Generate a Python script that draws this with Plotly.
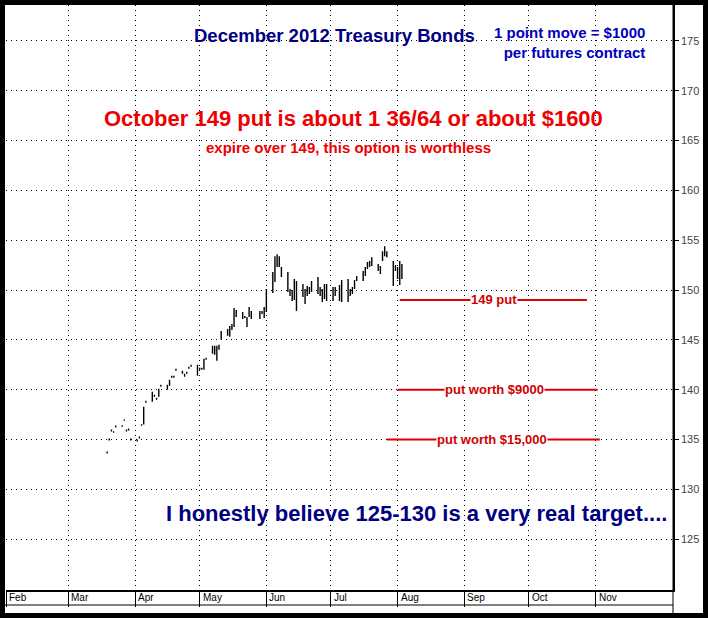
import plotly.graph_objects as go

# trading days, Mar 19 - Aug 3 2012
mar = [19, 20, 21, 22, 23, 26, 27, 28, 29, 30]
apr = [2, 3, 4, 5, 6, 9, 10, 11, 12, 13, 16, 17, 18, 19, 20, 23, 24, 25, 26, 27, 30]
may = [1, 2, 3, 4, 7, 8, 9, 10, 11, 14, 15, 16, 17, 18, 21, 22, 23, 24, 25, 29, 30, 31]
jun = [1, 4, 5, 6, 7, 8, 11, 12, 13, 14, 15, 18, 19, 20, 21, 22, 25, 26, 27, 28, 29]
jul = [2, 3, 5, 6, 9, 10, 11, 12, 13, 16, 17, 18, 19, 20, 23, 24, 25, 26, 27, 30, 31]
aug = [1, 2, 3]

lows = [133.6, 134.9, 135.8, 135.7, 136.2, 136.3, 136.9, 135.8, 135.9, 134.9,
        134.8, 135.1, 136.4, 136.5, 138.7, 138.8, 139.3, 139.0, 139.3, 140.3, 140.0,
        140.4, 141.2, 141.2, 141.9, 141.6, 141.3, 141.6, 142.1, 142.3, 141.4,
        142.0, 142.0, 142.0, 143.0, 143.6, 143.5, 142.9, 144.0, 145.0, 145.4, 145.3,
        146.0, 146.3, 147.3, 147.1, 147.2, 146.3, 147.3, 147.1, 147.1, 147.6, 147.2,
        147.8, 149.7, 150.8, 152.3, 152.3, 151.3, 149.8, 149.4, 148.9, 149.0, 147.9,
        149.3, 148.6, 149.4, 149.6, 149.8, 149.6, 149.4, 148.8, 149.1, 148.9,
        148.9, 149.4, 148.9, 148.8, 148.8, 149.4, 149.6, 150.1, 150.9, 150.9, 151.4,
        152.1, 152.3, 152.4, 151.9, 151.6, 152.9, 153.4, 153.3, 150.4, 151.9,
        151.1, 150.5, 151.1]
highs = [133.8, 135.1, 136.0, 135.8, 136.4, 136.4, 137.0, 136.0, 136.1, 135.1,
         135.0, 135.3, 136.5, 138.3, 138.9, 139.8, 139.5, 139.2, 140.1, 140.5, 140.5,
         141.0, 141.4, 141.4, 142.1, 141.9, 141.6, 141.8, 142.3, 142.5, 142.5,
         142.2, 142.2, 143.1, 143.2, 144.4, 144.4, 144.4, 144.5, 145.9, 146.1, 146.4,
         146.6, 148.2, 148.0, 147.8, 147.4, 147.3, 148.3, 147.9, 147.9, 147.9, 148.3,
         150.1, 151.8, 153.4, 153.6, 153.4, 152.3, 151.8, 150.1, 150.0, 151.1, 150.9,
         150.6, 150.1, 150.4, 150.3, 150.9, 151.3, 150.3, 150.1, 150.6, 150.6,
         150.3, 150.3, 150.5, 151.0, 151.1, 150.1, 150.3, 151.0, 151.4, 151.9, 152.3,
         152.8, 152.9, 153.3, 152.6, 152.4, 153.9, 154.4, 153.9, 152.9, 152.5,
         152.3, 152.9, 152.6]

months = ['Feb', 'Mar', 'Apr', 'May', 'Jun', 'Jul', 'Aug', 'Sep', 'Oct', 'Nov']
month_starts = ['2012-%02d-01' % m for m in range(2, 12)]

put_levels = [149, 140, 135]
put_labels = ['149 put', 'put worth $9000', 'put worth $15,000']
put_start = ['2012-08-02', '2012-08-01', '2012-07-27']
put_end = ['2012-10-28', '2012-11-02', '2012-11-03']
put_label_at = ['2012-09-15', '2012-09-15', '2012-09-14']

dates = (['2012-03-%02d' % d for d in mar] + ['2012-04-%02d' % d for d in apr]
         + ['2012-05-%02d' % d for d in may] + ['2012-06-%02d' % d for d in jun]
         + ['2012-07-%02d' % d for d in jul] + ['2012-08-%02d' % d for d in aug])
mids = [(h + l) / 2 for h, l in zip(highs, lows)]

W, H = 708, 618
L, R, T, B = 6, 35, 5, 28
pw, ph = W - L - R, H - T - B


def px(x):  # pixel -> paper x
    return (x - L) / pw


def py(y):  # pixel -> paper y
    return (H - B - y) / ph


fig = go.Figure()
fig.add_trace(go.Ohlc(x=dates, open=mids, high=highs, low=lows, close=mids,
                      increasing_line_color='black', decreasing_line_color='black',
                      line_width=1.4, tickwidth=0.3, hoverinfo='skip'))

for lvl, lab, x0, x1, xl in zip(put_levels, put_labels, put_start, put_end, put_label_at):
    fig.add_trace(go.Scatter(x=[x0, x1], y=[lvl, lvl], mode='lines',
                             line=dict(color='#e00000', width=2), hoverinfo='skip'))
    fig.add_annotation(x=xl, y=lvl, text='<b>%s</b>' % lab, xanchor='center', yanchor='middle',
                       showarrow=False, bgcolor='white', borderpad=0,
                       font=dict(family='Liberation Sans', size=13, color='#d00000'))

for m, d in zip(months, month_starts):
    fig.add_annotation(x=d, y=0, yref='paper', yanchor='top', xanchor='left', xshift=1,
                       yshift=0, text=m, showarrow=False,
                       font=dict(family='Liberation Sans Narrow, Liberation Sans', size=10, color='black'))

navy = '#000080'
texts = [
    ('<b>December 2012 Treasury Bonds</b>', 334, 35, 'center', 18.5, navy),
    ('<b>1 point move = $1000<br>per futures contract</b>', 647, 42, 'right', 15, '#0000c0'),
    ('<b>October 149 put is about 1 36/64 or about $1600</b>', 353, 119, 'center', 22, '#ee0000'),
    ('<b>expire over 149, this option is worthless</b>', 348, 147, 'center', 15, '#ee0000'),
    ('<b>I honestly believe 125-130 is a very real target....</b>', 416, 513, 'center', 22, navy),
]
for t, x, y, anc, sz, col in texts:
    fig.add_annotation(x=px(x), y=py(y), xref='paper', yref='paper', xanchor=anc, yanchor='middle',
                       align=anc, text=t, showarrow=False,
                       font=dict(family='Liberation Sans', size=sz, color=col))

# label band line and outer black frame
fig.add_shape(type='line', xref='paper', yref='paper', x0=px(0), x1=px(673), y0=py(605), y1=py(605),
              line=dict(color='black', width=1))
fig.add_shape(type='line', xref='paper', yref='paper', x0=px(673), x1=px(673), y0=py(613), y1=py(0),
              line=dict(color='black', width=1))
fig.add_shape(type='rect', xref='paper', yref='paper', x0=px(0), x1=px(W), y0=py(H), y1=py(0),
              line=dict(color='black', width=10), layer='above')

fig.update_layout(
    width=W, height=H, showlegend=False,
    margin=dict(l=L, r=R, t=T, b=B, autoexpand=False),
    paper_bgcolor='white', plot_bgcolor='white',
    xaxis=dict(range=['2012-02-01', '2012-12-07'], tickvals=month_starts, showticklabels=False,
               ticks='outside', ticklen=15, tickcolor='black', automargin=False,
               showgrid=True, gridcolor='black', griddash='1px,4px', gridwidth=1,
               showline=True, linecolor='black', linewidth=1.5, rangeslider_visible=False),
    yaxis=dict(range=[119.9, 178.6], side='right', tickvals=list(range(125, 180, 5)),
               ticks='outside', ticklen=4, tickcolor='black', automargin=False,
               tickfont=dict(family='Liberation Sans', size=11, color='#444'),
               showgrid=True, gridcolor='black', griddash='1px,4px', gridwidth=1,
               showline=True, linecolor='black', linewidth=1.5, zeroline=False),
)

fig.write_html("out.html", config={'displayModeBar': False},
               post_script="document.body.style.margin='0';")
